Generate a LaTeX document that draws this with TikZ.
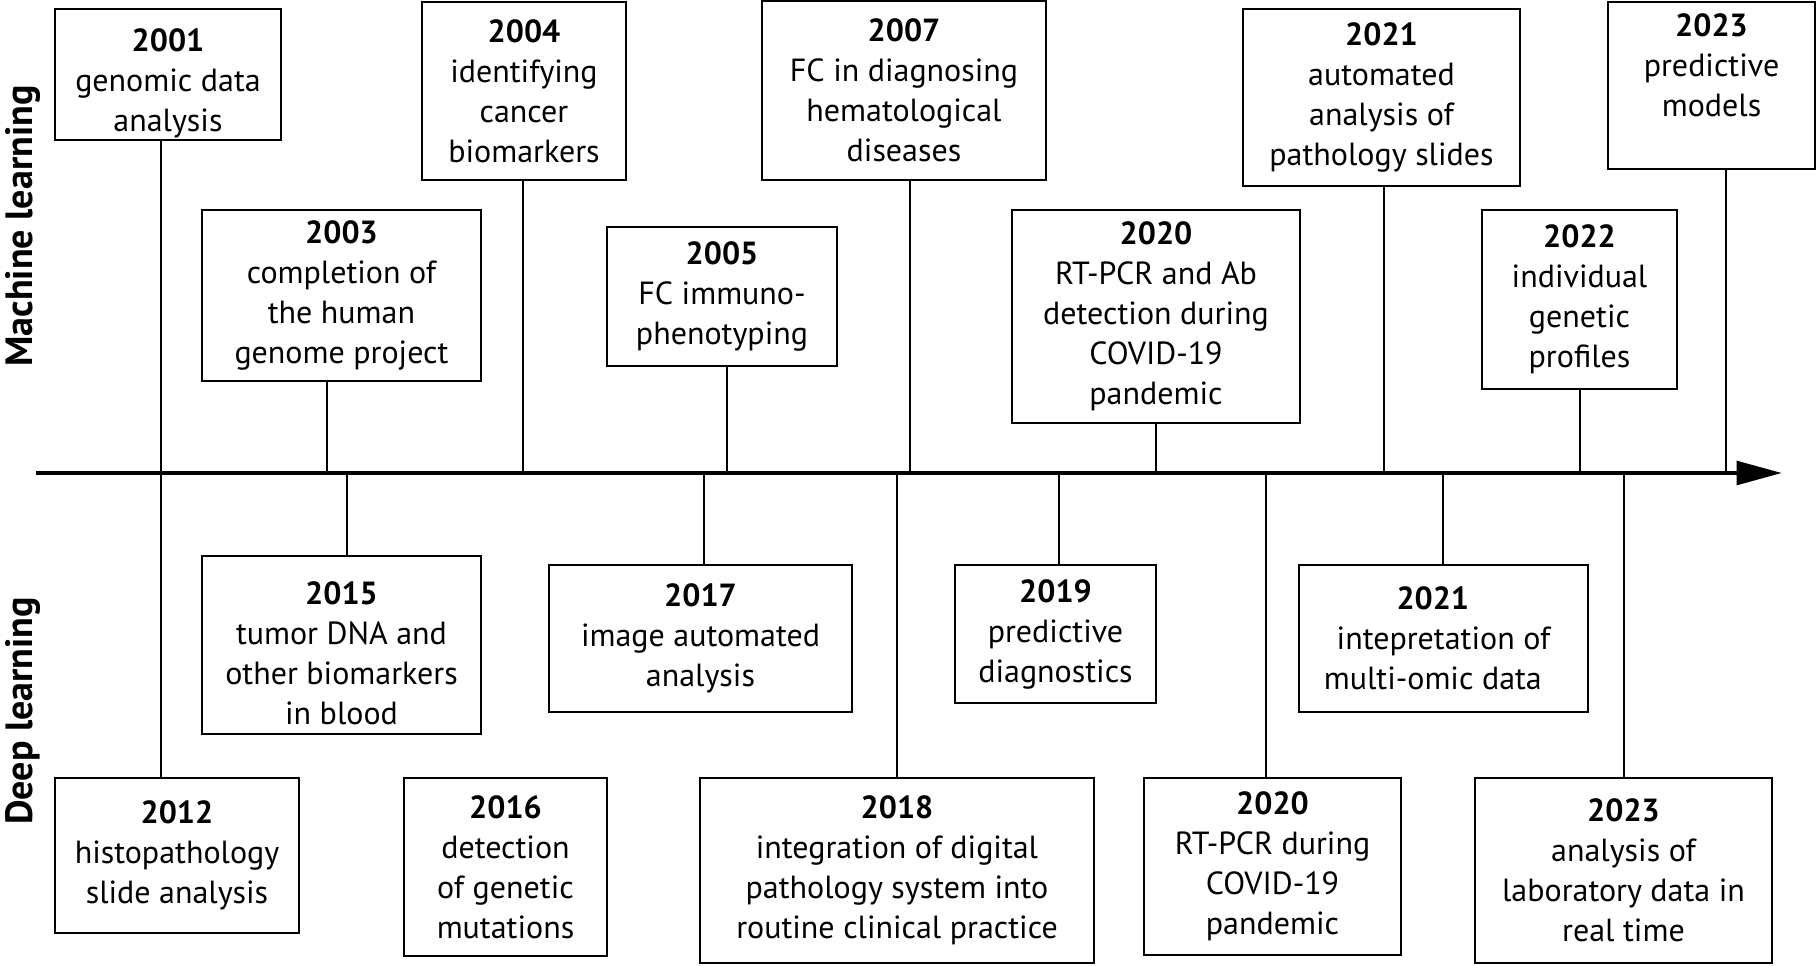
\documentclass[tikz,border=0pt]{standalone}
\usepackage{fontspec}
\setmainfont{PT Sans}
\usetikzlibrary{arrows.meta}

\newcommand{\yr}[1]{\textbf{#1}}

\tikzset{every picture/.style={line width=0.75pt}}
\tikzset{
  evt/.style 2 args={draw, line width=1.5pt, align=center, inner sep=0pt,
    minimum width=#1*0.75pt, minimum height=#2*0.75pt,
    font=\fontsize{24}{30}\selectfont},
  stem/.style={line width=1.2pt},
  timeaxis/.style={line width=3.4pt, -{Triangle[length=34pt,width=17.5pt]}},
  sidelabel/.style={rotate=90, font=\fontsize{28.5}{32}\selectfont\bfseries},
}

\begin{document}
\begin{tikzpicture}[x=0.75pt,y=0.75pt,yscale=-1,xscale=1]
\useasboundingbox (0,0) rectangle (1818,965);

% Side labels
\node [sidelabel] (mlab) at (23,226) {Machine learning};
\node [sidelabel] (dlab) at (23,711) {Deep learning};

% Axis
\coordinate (ax0) at (36,473);
\coordinate (ax1) at (1782,473);
\draw [timeaxis] (ax0) -- (ax1);

% Ticks on the axis, machine learning
\coordinate (m2001) at (161,473);
\coordinate (m2003) at (327,473);
\coordinate (m2004) at (523,473);
\coordinate (m2005) at (727,473);
\coordinate (m2007) at (910,473);
\coordinate (m2020) at (1156,473);
\coordinate (m2021) at (1384,473);
\coordinate (m2022) at (1580,473);
\coordinate (m2023) at (1726,473);
% Ticks on the axis, deep learning
\coordinate (d2012) at (161,473);
\coordinate (d2015) at (347,473);
\coordinate (d2017) at (704,473);
\coordinate (d2018) at (897,473);
\coordinate (d2019) at (1059,473);
\coordinate (d2020) at (1266,473);
\coordinate (d2021) at (1443,473);
\coordinate (d2023) at (1624,473);

%Rectangle [2001]
\node [evt={226}{131}] (b2001) at (168,74.5) {\mbox{}\\\yr{2001}\\genomic data\\analysis};
%Rectangle [2003]
\node [evt={279}{171}] (b2003) at (341.5,295.5) {\yr{2003}\\completion of\\the human\\genome project};
%Rectangle [2004]
\node [evt={204}{178}] (b2004) at (524,91) {\yr{2004}\\identifying\\cancer\\biomarkers};
%Rectangle [2005]
\node [evt={230}{139}] (b2005) at (722,296.5) {\yr{2005}\\FC immuno-\\phenotyping};
%Rectangle [2007]
\node [evt={284}{179}] (b2007) at (904,90.5) {\yr{2007}\\FC in diagnosing\\hematological\\diseases};
%Rectangle [2020 ml]
\node [evt={288}{213}] (b2020m) at (1156,316.5) {\yr{2020}\\RT-PCR and Ab\\detection during\\COVID-19\\pandemic};
%Rectangle [2021 ml]
\node [evt={277}{177}] (b2021m) at (1381.5,97.5) {\yr{2021}\\automated\\analysis of\\pathology slides};
%Rectangle [2022]
\node [evt={195}{179}] (b2022) at (1579.5,299.5) {\yr{2022}\\individual\\genetic\\profiles};
%Rectangle [2023 ml]
\node [evt={207}{167}] (b2023m) at (1711.5,85.5) {\yr{2023}\\predictive\\models\\\mbox{}};

%Rectangle [2012]
\node [evt={244}{155}] (b2012) at (177,855.5) {\yr{2012}\\histopathology\\slide analysis};
%Rectangle [2015]
\node [evt={279}{178}] (b2015) at (341.5,645) {\mbox{}\\\yr{2015}\\tumor DNA and\\other biomarkers\\in blood};
%Rectangle [2016]
\node [evt={203}{178}] (b2016) at (505.5,867) {\yr{2016}\\detection\\of genetic\\mutations};
%Rectangle [2017]
\node [evt={303}{147}] (b2017) at (700.5,638.5) {\yr{2017}\\image automated\\analysis};
%Rectangle [2018]
\node [evt={394}{185}] (b2018) at (897,870.5) {\yr{2018}\\integration of digital\\pathology system into\\routine clinical practice};
%Rectangle [2019]
\node [evt={201}{138}] (b2019) at (1055.5,634) {\yr{2019}\\predictive\\diagnostics};
%Rectangle [2020 dl]
\node [evt={257}{177}] (b2020d) at (1272.5,866.5) {\yr{2020}\\RT-PCR during\\COVID-19\\pandemic};
%Rectangle [2021 dl]
\node [evt={289}{147}] (b2021d) at (1443.5,638.5) {\yr{2021}\hspace*{16pt}\\intepretation of\hspace*{16pt}\\multi-omic data\hspace*{16pt}};
%Rectangle [2023 dl]
\node [evt={297}{185}] (b2023d) at (1623.5,870.5) {\yr{2023}\\analysis of\\laboratory data in\\real time};

% Stems up
\draw [stem] (m2001 |- b2001.south) -- (m2001);
\draw [stem] (m2003 |- b2003.south) -- (m2003);
\draw [stem] (m2004 |- b2004.south) -- (m2004);
\draw [stem] (m2005 |- b2005.south) -- (m2005);
\draw [stem] (m2007 |- b2007.south) -- (m2007);
\draw [stem] (m2020 |- b2020m.south) -- (m2020);
\draw [stem] (m2021 |- b2021m.south) -- (m2021);
\draw [stem] (m2022 |- b2022.south) -- (m2022);
\draw [stem] (m2023 |- b2023m.south) -- (m2023);
% Stems down
\draw [stem] (d2012) -- (d2012 |- b2012.north);
\draw [stem] (d2015) -- (d2015 |- b2015.north);
\draw [stem] (d2017) -- (d2017 |- b2017.north);
\draw [stem] (d2018) -- (d2018 |- b2018.north);
\draw [stem] (d2019) -- (d2019 |- b2019.north);
\draw [stem] (d2020) -- (d2020 |- b2020d.north);
\draw [stem] (d2021) -- (d2021 |- b2021d.north);
\draw [stem] (d2023) -- (d2023 |- b2023d.north);

\end{tikzpicture}
\end{document}
